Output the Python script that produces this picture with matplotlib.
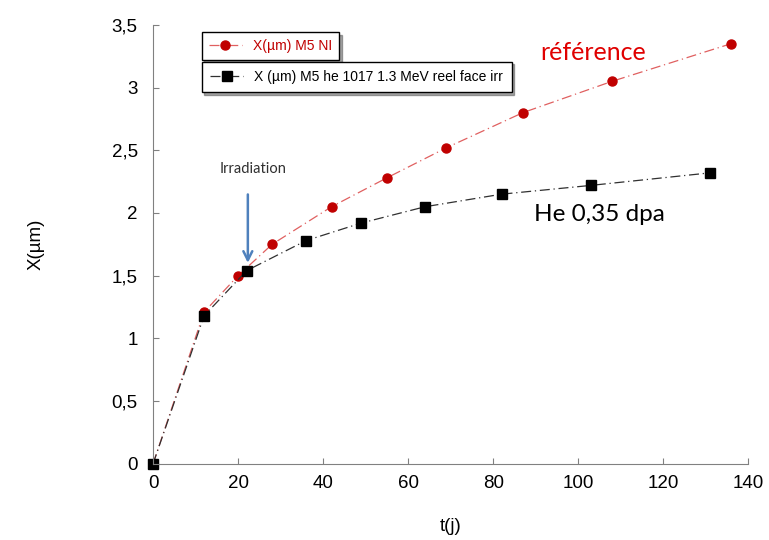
import numpy as np
import matplotlib.pyplot as plt

# données
t_ref = [0, 12, 20, 28, 42, 55, 69, 87, 108, 136]
x_ref = [0, 1.21, 1.5, 1.75, 2.05, 2.28, 2.52, 2.8, 3.05, 3.35]
t_irr = [0, 12, 22, 36, 49, 64, 82, 103, 131]
x_irr = [0, 1.18, 1.54, 1.78, 1.92, 2.05, 2.15, 2.22, 2.32]

label_ref = "X(µm) M5 NI"
label_irr = "X (µm) M5 he 1017 1.3 MeV reel face irr"
y_ticks = [0, 0.5, 1, 1.5, 2, 2.5, 3, 3.5]
y_ticklabels = ["0", "0,5", "1", "1,5", "2", "2,5", "3", "3,5"]
x_ticks = [0, 20, 40, 60, 80, 100, 120, 140]

plt.rcParams['font.family'] = ['Liberation Sans', 'DejaVu Sans']

fig = plt.figure(figsize=(7.69, 5.40), dpi=100)
ax = fig.add_axes([0.199, 0.141, 0.774, 0.813])

l_ref, = ax.plot(t_ref, x_ref, color='#e06060', lw=0.9, dashes=[8, 3, 1, 3],
                 marker='o', ms=6.5, mfc='#c00000', mec='#c00000')
l_irr, = ax.plot(t_irr, x_irr, color='#303030', lw=0.9, dashes=[8, 3, 1, 3],
                 marker='s', ms=7, mfc='black', mec='black')

ax.set_xlim(0, 140)
ax.set_ylim(0, 3.5)
ax.set_xticks(x_ticks)
ax.set_yticks(y_ticks)
ax.set_yticklabels(y_ticklabels)
ax.tick_params(direction='in', labelsize=13.5, length=4, color='#808080')
ax.tick_params(axis='x', pad=8)
ax.tick_params(axis='y', pad=11)
for s in ['top', 'right']:
    ax.spines[s].set_visible(False)
for s in ['left', 'bottom']:
    ax.spines[s].set_color('#808080')
for p in [l_ref, l_irr]:
    p.set_clip_on(False)

ax.set_xlabel("t(j)", fontsize=13.5, labelpad=19)
ax.set_ylabel("X(µm)", fontsize=13.5, labelpad=48)

# légendes (deux cadres séparés)
leg1 = ax.legend([l_ref], [label_ref], loc='upper left', bbox_to_anchor=(0.07, 1.0),
                 fancybox=False, shadow=True, edgecolor='black', fontsize=10,
                 handlelength=2.4, borderpad=0.5, framealpha=1)
leg1.get_texts()[0].set_color('#c00000')
leg1.get_frame().set_linewidth(1.0)
ax.add_artist(leg1)
leg2 = ax.legend([l_irr], [label_irr], loc='upper left', bbox_to_anchor=(0.07, 0.932),
                 fancybox=False, shadow=True, edgecolor='black', fontsize=10,
                 handlelength=2.4, borderpad=0.6, framealpha=1)
leg2.get_frame().set_linewidth(1.0)

# annotations
ax.text(103.5, 3.28, "référence", color='#e00000', fontsize=18, family='Lato',
        ha='center', va='center')
ax.text(105, 1.99, "He 0,35 dpa", color='black', fontsize=17.5, family='Lato',
        ha='center', va='center')
ax.text(23.5, 2.35, "Irradiation", color='#303030', fontsize=10.5, family='Lato',
        ha='center', va='center')
ax.annotate("", xy=(22.3, 1.58), xytext=(22.3, 2.17),
            arrowprops=dict(arrowstyle='->', color='#4f81bd', lw=1.8,
                            mutation_scale=16))

fig.savefig("out.png", dpi=100)
